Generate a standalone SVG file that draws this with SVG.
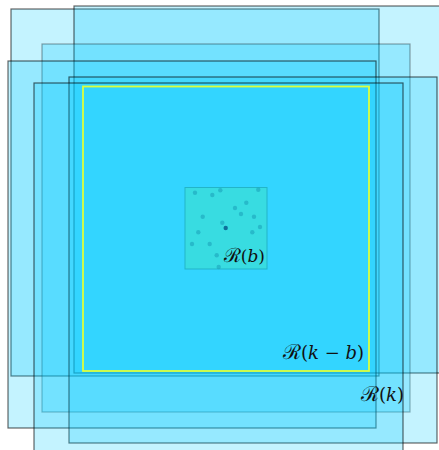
<svg xmlns="http://www.w3.org/2000/svg" width="439" height="450" viewBox="0 0 439 450">
<style>
.reg{fill:#00ccff;fill-opacity:0.23;stroke:#000;stroke-opacity:0.6;stroke-width:1.2}
.regc{fill:#00ccff;fill-opacity:0.23;stroke:#000;stroke-opacity:0.35;stroke-width:1.2}
.dot{fill:#1a9fb8;fill-opacity:0.55}
.lbl{font-family:"DejaVu Serif","Liberation Serif",serif;fill:#111;text-anchor:end}
.it{font-style:italic}
.cal{font-size:1.15em}
</style>
<rect width="439" height="450" fill="#ffffff"/>
<g id="region-a"><rect class="reg" x="11" y="9" width="368" height="367"/></g>
<g id="region-b"><rect class="reg" x="74" y="6" width="368" height="367"/></g>
<g id="region-c"><rect class="regc" x="42" y="44" width="368" height="368"/></g>
<g id="region-d"><rect class="reg" x="8" y="61" width="368" height="367"/></g>
<g id="region-e"><rect class="reg" x="69" y="77" width="368" height="366"/></g>
<g id="region-f"><rect class="reg" x="34" y="83" width="369" height="369"/></g>
<g id="r-k-minus-b"><rect x="83" y="86.5" width="286" height="284.5" fill="none" stroke="#dcff3c" stroke-width="1.8"/>
<text class="lbl" x="364" y="359" font-size="18"><tspan class="cal">ℛ</tspan>(<tspan class="it">k</tspan> − <tspan class="it">b</tspan>)</text></g>
<g id="r-k"><text class="lbl" x="404" y="401" font-size="18"><tspan class="cal">ℛ</tspan>(<tspan class="it">k</tspan>)</text></g>
<g id="r-b">
<rect x="185" y="187.5" width="82" height="81.5" fill="#38dce1" stroke="#22b5c8" stroke-width="1"/>
<circle class="dot" cx="195" cy="192.7" r="2.2"/>
<circle class="dot" cx="212.3" cy="195" r="2.2"/>
<circle class="dot" cx="220.3" cy="190.3" r="2.2"/>
<circle class="dot" cx="258.3" cy="189.7" r="2.2"/>
<circle class="dot" cx="235" cy="208" r="2.2"/>
<circle class="dot" cx="246.3" cy="202.7" r="2.2"/>
<circle class="dot" cx="241" cy="214" r="2.2"/>
<circle class="dot" cx="202.7" cy="216.7" r="2.2"/>
<circle class="dot" cx="222.3" cy="222.7" r="2.2"/>
<circle class="dot" cx="254" cy="216.7" r="2.2"/>
<circle cx="225.7" cy="228" r="2.2" fill="#0f6f9a"/>
<circle class="dot" cx="260" cy="227" r="2.2"/>
<circle class="dot" cx="198.3" cy="232.3" r="2.2"/>
<circle class="dot" cx="252.3" cy="232.3" r="2.2"/>
<circle class="dot" cx="192" cy="244" r="2.2"/>
<circle class="dot" cx="209.7" cy="244" r="2.2"/>
<circle class="dot" cx="216.7" cy="255.3" r="2.2"/>
<circle class="dot" cx="218.7" cy="267" r="2.2"/>
<text class="lbl" x="265" y="262" font-size="17"><tspan class="cal">ℛ</tspan>(<tspan class="it">b</tspan>)</text>
</g>
</svg>
